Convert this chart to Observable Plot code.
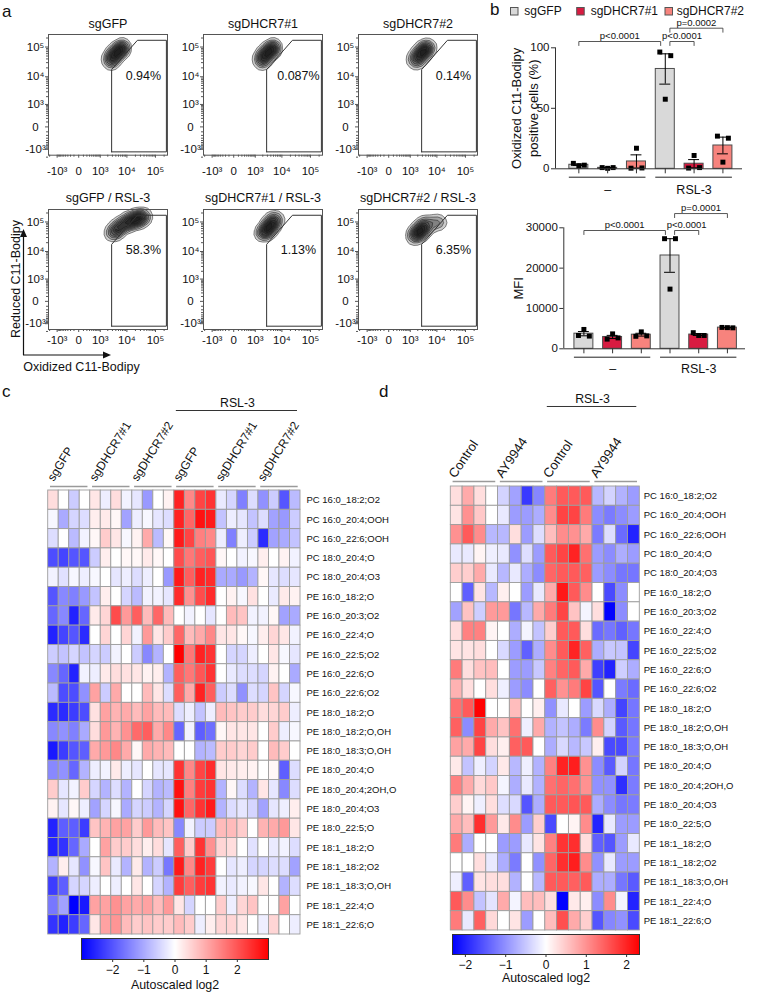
<!DOCTYPE html>
<html>
<head>
<meta charset="utf-8">
<script src="https://cdn.jsdelivr.net/npm/d3@7"></script>
<script src="https://cdn.jsdelivr.net/npm/@observablehq/plot@0.6"></script>
<style>
  body { margin: 0; background: #fff; }
  #fig { position: relative; width: 763px; height: 1000px; overflow: hidden; background: #fff;
         font-family: "Liberation Sans", Arial, Helvetica, sans-serif; color: #111; }
</style>
</head>
<body>
<div id="fig"></div>
<script>
// ---------------- a: C11-Bodipy flow cytometry ----------------
const facsTitles = ["sgGFP", "sgDHCR7#1", "sgDHCR7#2", "sgGFP / RSL-3", "sgDHCR7#1 / RSL-3", "sgDHCR7#2 / RSL-3"];
const gatePercent = ["0.94%", "0.087%", "0.14%", "58.3%", "1.13%", "6.35%"];
// representative events along each population (oxidized, reduced)
const eventsX = [
  [2500, 3300, 4200, 5400, 6900],
  [1770, 2310, 2990, 3860, 4970],
  [1650, 2150, 2800, 3600, 4650],
  [3000, 3860, 4970, 6380, 9620, 12280, 15700, 19960, 25500, 32400, 41200],
  [2120, 2750, 3550, 4570, 5870],
  [1480, 1940, 2520, 3260, 4200, 11300]
];
const eventsY = [
  [35200, 46200, 60500, 79200, 103600],
  [35200, 46200, 60500, 79200, 103600],
  [35200, 46200, 60500, 79200, 103600],
  [41100, 51800, 60500, 76200, 96000, 103600, 111900, 120900, 130500, 141000, 152200],
  [41100, 53900, 70500, 92400, 120900],
  [32600, 41100, 51800, 65300, 82200, 96000]
];
const gateX = [2800, 2800, 23500, 240000, 240000, 2800];
const gateY = [-1260, 17500, 168000, 168000, -1260, -1260];
const facsTicks = [-1000, 0, 1000, 10000, 100000];
const facsTickLabels = ["-10³", "0", "10³", "10⁴", "10⁵"];
const facsMinorTicks = [-2000, -900, -800, -700, -600, -500, -400, -300, -200, -100,
  100, 200, 300, 400, 500, 600, 700, 800, 900,
  2000, 3000, 4000, 5000, 6000, 7000, 8000, 9000,
  20000, 30000, 40000, 50000, 60000, 70000, 80000, 90000, 200000];

// ---------------- b: lipid peroxidation and MFI ----------------
const conditions = ["–", "–", "–", "RSL-3", "RSL-3", "RSL-3"];
const lines = ["sgGFP", "sgDHCR7#1", "sgDHCR7#2", "sgGFP", "sgDHCR7#1", "sgDHCR7#2"];
const lineNames = ["sgGFP", "sgDHCR7#1", "sgDHCR7#2"];
const lineColors = ["#d9d9d9", "#d81b41", "#f7837d"];
const oxidizedPct = [[4.5, 2.5, 3.0], [1.0, 0.4, 1.0], [0.5, 17, 0.7], [96.5, 57.5, 93.5], [0.6, 11, 1.0], [27, 5.5, 25.3]];
const mfi = [[3300, 4800, 3150], [2400, 3700, 2700], [3100, 4200, 3200], [27300, 14800, 27300], [4000, 3300, 3300], [5300, 5250, 5200]];
const oxidizedTests = [{a: 0, b: 3, p: "p<0.0001", tier: 0}, {a: 3, b: 4, p: "p<0.0001", tier: 0}, {a: 3, b: 5, p: "p=0.0002", tier: 1}];
const mfiTests = [{a: 0, b: 3, p: "p<0.0001", tier: 0}, {a: 3, b: 4, p: "p<0.0001", tier: 0}, {a: 3, b: 5, p: "p=0.0001", tier: 1}];

// ---------------- c, d: oxidized phospholipids ----------------
const lipids = ["PC 16:0_18:2;O2", "PC 16:0_20:4;OOH", "PC 16:0_22:6;OOH", "PC 18:0_20:4;O", "PC 18:0_20:4;O3",
  "PE 16:0_18:2;O", "PE 16:0_20:3;O2", "PE 16:0_22:4;O", "PE 16:0_22:5;O2", "PE 16:0_22:6;O", "PE 16:0_22:6;O2",
  "PE 18:0_18:2;O", "PE 18:0_18:2;O,OH", "PE 18:0_18:3;O,OH", "PE 18:0_20:4;O", "PE 18:0_20:4;2OH,O",
  "PE 18:0_20:4;O3", "PE 18:0_22:5;O", "PE 18:1_18:2;O", "PE 18:1_18:2;O2", "PE 18:1_18:3;O,OH",
  "PE 18:1_22:4;O", "PE 18:1_22:6;O"];
const cGroups = ["sgGFP", "sgDHCR7#1", "sgDHCR7#2", "sgGFP", "sgDHCR7#1", "sgDHCR7#2"];
const cTreatment = ["", "", "", "RSL-3", "RSL-3", "RSL-3"];
const cValues = [
  [0.4, 0, -0.6, 0, 0.3, -0.2, 0.4, -0.15, -0.3, -1.2, 0, 0.15, 2.6, 1.4, 2.2, 2.4, -0.25, -0.5, -1.5, -0.4, -1.3, -0.6, -2.0, -0.8],
  [-0.1, -1.0, -0.5, -0.4, 0.2, 0.25, 0.1, -1.1, -0.2, -0.1, -0.3, -0.4, 2.6, 1.8, 2.8, 2.7, -0.7, -0.2, -0.3, -0.7, -0.4, -1.1, -1.2, -0.6],
  [-0.4, 0, -0.8, -0.15, 0.1, 0.6, 0.3, -0.1, 0.15, 1.0, -0.8, 0.1, 2.7, 2.2, 1.5, 1.4, -0.2, -1.5, -0.2, -0.6, -2.5, -1.1, -1.0, -0.7],
  [-2.1, -2.2, -2.0, -2.0, -0.6, 0.2, 0, 0.1, 0.1, 0.25, 0.1, 0, 2.1, 1.6, 1.9, 2.0, 0.1, 0, -0.15, -0.1, 0.2, 0, 0.15, -0.15],
  [-0.15, -0.35, -0.1, -0.2, -0.1, 0, -0.3, -0.2, -0.4, -0.2, 0, -1.2, 2.7, 1.9, 2.6, 2.5, -1.0, -1.0, -1.2, -0.9, 0.1, -0.3, -0.4, -0.3],
  [-2.0, -1.4, -1.5, -1.2, -0.7, 0.2, 0, -0.5, -0.8, -0.15, -0.15, -0.3, 2.5, 1.3, 2.1, 2.5, 0, 0.15, -0.1, 0.35, 0, -0.25, 0.25, 0.15],
  [-1.8, -1.4, -2.6, -1.8, 0.25, 0.5, 2.1, 1.2, 1.9, 0.8, 1.8, 0.8, 0, -0.15, 0, -0.3, 0, 0.8, 0.7, -0.15, -0.15, 0.1, -1.1, -1.0],
  [-2.6, -2.2, -2.0, -2.5, 0, 0.5, 0, 0.5, -0.15, 1.2, 0.3, 0.6, 1.8, 0.8, 1.0, 1.4, 0.3, 0.3, 0.1, -0.1, 0.2, 0.5, 0.3, -0.15],
  [-0.6, -0.7, -0.5, -0.7, -0.5, -0.6, -0.15, 0, -0.6, -1.4, -0.9, 0, 3.0, 1.6, 2.6, 2.4, 0, -0.5, -0.5, -0.2, 0, 0.3, -0.1, -0.3],
  [-1.4, -1.8, -2.6, -0.15, -0.2, 0.25, 0.4, 0.35, 0.3, 0.15, 0.2, -0.9, 1.9, 1.6, 2.0, 2.4, 0, -0.25, -0.4, -0.4, -0.5, 0.15, 0, -1.0],
  [-0.8, -2.1, -2.1, -1.3, 1.1, -0.6, 1.0, 0, 0, 0.8, 0.3, -0.4, 1.9, 1.0, 2.6, 1.9, -0.6, -0.4, -1.3, -0.4, -0.5, 0.7, -0.5, -0.1],
  [-2.5, -2.5, -2.3, -2.1, 0.35, 1.1, 0.9, 1.0, 0.8, 1.1, 0.8, 0.8, -0.4, -0.2, -0.7, -0.2, 0.8, 0.7, 0.6, 0.6, 0.4, 0.5, 0.6, -0.2],
  [-1.4, -1.3, -1.5, -1.0, 0.4, 1.2, 0.9, 1.3, 1.75, 1.9, 1.0, 1.4, -1.8, -0.15, -1.9, -1.7, 0.1, 0.3, 0.3, 0.3, 0, 0.6, -0.2, -0.1],
  [-2.7, -2.3, -2.0, -1.9, 1.0, 1.2, 1.4, 1.0, 0.1, 1.0, 0.9, 0.8, 0, 0, -0.9, -0.8, 0.6, 0.6, 0.5, 0.6, 0, 0.8, 0.6, 0],
  [-1.4, -1.3, -1.8, -0.9, -0.2, -0.15, 0.25, -0.2, -0.3, 0, -0.3, -0.3, 2.4, 1.4, 2.2, 2.5, 0.3, 0.25, 0.2, 0.15, 0, 0.1, -1.9, -0.4],
  [0.6, -0.3, -0.15, 0.6, -0.5, -0.9, -0.4, -0.9, 0, -0.5, -0.9, -0.8, 2.8, 1.5, 2.3, 2.4, -0.9, 0.1, -0.4, -0.9, 0.3, -0.3, -1.4, -0.4],
  [0.15, -0.3, 0.1, -0.2, -1.1, -0.5, -0.1, -1.0, -0.5, -0.6, -0.9, -0.5, 2.8, 1.8, 2.4, 2.7, -0.9, -0.4, -0.3, -0.5, -1.1, -0.3, -0.2, 0.2],
  [-2.6, -1.9, -1.9, -2.3, 0.7, 0.9, 1.1, 1.1, 0.6, 1.2, 0.8, 0.7, -1.4, -0.15, -0.6, -0.6, 0.8, 0.8, 0.6, 0, 0.9, 1.0, 1.2, 0.3],
  [-2.6, -2.4, -1.8, -1.0, 0, 1.1, 0.6, 0.6, 0.4, 0.2, 0.4, -0.3, 1.9, 0.6, 2.4, 1.3, 0.5, 0.4, 0, -0.35, 0, -0.25, -0.15, -0.4],
  [-0.9, 0.2, -0.3, -1.3, -0.1, 0.7, -0.25, -0.9, 0.25, -0.9, -0.6, -1.6, 2.7, 1.4, 2.6, 2.3, 0, -0.3, -0.2, -0.5, -0.5, -0.4, -0.4, -1.1],
  [-2.3, -1.9, -0.5, -0.5, -0.2, 0, -0.2, 0, 0.3, 0, -0.5, -0.9, 2.3, 1.9, 2.3, 2.4, -0.15, -0.25, -0.15, -0.1, 0.3, 0, -0.9, -0.4],
  [-1.6, -1.1, -3.0, -2.7, 1.1, 1.1, 1.3, 1.1, 1.0, 1.1, 0.8, 1.2, 0.3, -0.5, 0, 0, 0.6, -0.2, 0.5, 0.7, 0, 0, 1.1, 0],
  [-2.4, -2.6, -2.3, -1.8, 0.3, 1.1, 1.25, 0.8, 0.6, 0.7, 0.6, 0.6, 0.8, 0.6, -0.2, 0.2, 0.5, 0.5, 0.3, 0, -0.2, 0.5, 0, -0.2]
];
const dGroups = ["Control", "AY9944", "Control", "AY9944"];
const dTreatment = ["", "", "RSL-3", "RSL-3"];
const dValues = [
  [0.3, 0.77, 0.3, 0, -0.4, -0.85, -1.8, -1.1, 1.2, 1.5, 1.5, 1.5, -0.65, -0.4, -0.7, -0.9],
  [0.25, 1.0, 0.5, 0, -0.2, -0.9, -0.9, -0.75, 1.05, 1.7, 1.7, 1.2, -1.05, -1.2, -1.05, -0.9],
  [1.0, 1.5, 1.05, -0.65, -0.65, 0.3, -0.9, -0.3, 0.6, 1.05, 1.0, 0.77, -1.2, -0.3, -1.35, -2.0],
  [-0.2, -0.2, 0.1, -0.15, -0.2, -1.0, -0.3, -0.9, 1.5, 1.7, 2.0, 1.3, -0.9, -1.05, -0.75, -0.9],
  [0.45, 0.45, 0.77, -0.2, -0.65, -0.2, -0.75, -1.05, 1.4, 1.5, 1.5, 1.45, -0.9, -1.05, -1.25, -1.25],
  [0, -1.45, 0.25, -0.65, 0.15, 0, -0.9, -0.2, 0.77, 2.1, 1.5, 1.05, 0, -1.65, -1.05, 0],
  [-0.85, 0.55, -0.45, 0.92, 0.92, -1.25, -0.65, 0.77, 1.2, 1.7, 0.55, -0.1, 0.3, -2.3, -1.05, 0],
  [0.3, 1.15, 1.15, 0.1, 0, -0.75, -0.1, -0.55, 0.45, 1.5, 1.5, 0.3, -1.35, -1.25, -1.45, -1.25],
  [0.25, 0.25, 0.3, 0, -0.35, -0.9, -1.45, -0.75, 1.05, 1.5, 2.0, 1.45, -0.75, -0.5, -0.55, -1.7],
  [1.2, 0.3, 0.55, 0.6, 0, -0.9, -0.9, -0.5, 1.15, 1.4, 1.5, 0.77, -1.75, -2.0, -0.45, -0.75],
  [0.7, 0.3, 0, 0.3, -0.15, -0.9, -1.05, 0, 1.45, 1.0, 1.2, 1.7, -1.55, 0, -1.2, -1.35],
  [1.3, 1.5, 2.3, 0, 0, 0.6, 0, 0.15, -1.0, -0.2, 0, -0.9, -0.35, -0.75, -1.7, -1.25],
  [1.45, -1.05, 1.7, 0.77, 0.55, 1.3, -0.15, 0.77, -0.7, -0.55, -0.75, -1.2, 1.05, -0.4, -1.5, -1.25],
  [0.85, 0.77, 1.7, 0.3, 0.15, 1.45, 1.5, 0, -0.75, -0.35, -0.65, -0.5, 0.15, -1.65, -1.65, -1.2],
  [0.2, -0.55, -0.15, -0.4, 0.2, -0.65, -0.15, -0.7, 1.15, 2.0, 2.05, 1.0, -1.05, -1.5, -0.4, -1.25],
  [1.15, 0.77, 0.35, 0.5, -0.1, -0.75, -0.2, -0.7, 1.3, 1.4, 1.3, 1.0, -1.0, -1.0, -1.9, -1.2],
  [0.45, 0.1, -0.15, 0.3, -0.3, -0.35, -1.55, -0.75, 1.5, 1.5, 1.55, 1.5, -0.75, -1.05, -1.25, -1.2],
  [0.77, 0.6, 1.9, 0.92, 0.2, 1.05, -0.9, 0.45, -1.65, 0, 0.1, 1.05, -2.0, -0.2, -0.9, -0.9],
  [1.2, -0.75, 0, 0, -0.9, -0.9, -0.2, 0.25, 1.15, 1.85, 1.9, 0.3, -1.45, -1.55, -0.9, -0.2],
  [0, 0, 0.3, -0.2, -0.75, -1.2, 0, -1.0, 1.4, 1.9, 2.05, 1.05, -1.0, -0.2, -0.9, -0.9],
  [-0.15, -1.45, 0.25, 0.3, 0.3, -0.7, 0, -0.65, 1.5, 1.5, 1.45, 1.5, -0.75, -0.75, -1.25, -1.5],
  [1.5, 1.05, -0.55, -0.25, 0.77, -0.1, 0.6, 0.6, 0.3, -2.3, 0.2, 0.15, -1.05, 1.05, -0.1, -2.0],
  [1.2, -0.2, 1.45, 0.35, 0, 0.25, -0.9, 0, 0.6, 1.6, 0.77, 0.45, -1.55, -1.1, -1.0, -1.65]
];
const colorTicks = [-2, -1, 0, 1, 2];

// ---------------- layout helpers ----------------
const FONT = '"Liberation Sans", Arial, Helvetica, sans-serif';
const baseStyle = {fontFamily: FONT, background: "transparent", overflow: "visible", color: "#111"};
const fig = document.getElementById("fig");
function place(el, left, top) {
  el.style.position = "absolute";
  el.style.left = left + "px";
  el.style.top = top + "px";
  fig.append(el);
  return el;
}
const facsFormat = d => facsTickLabels[facsTicks.indexOf(d)];
const heatColor = max => ({type: "linear", domain: [-max, 0, max], range: ["#0000ff", "#ffffff", "#ff0000"], interpolate: "rgb", clamp: true});

// ---------------- a: six contour plots ----------------
function facsPlot(k) {
  const row = Math.floor(k / 3), col = k % 3;
  const frameLeft = 47.7 + 155.3 * col, frameTop = row ? 209.3 : 34.3, frameH = row ? 120 : 120.7;
  const mL = 40, mT = 30, mR = 10, mB = 30, frameW = 119;
  const events = eventsX[k].map((x, i) => ({x, y: eventsY[k][i]}));
  const gate = gateX.map((x, i) => ({x, y: gateY[i]}));
  const chart = Plot.plot({
    width: mL + frameW + mR, height: mT + frameH + mB,
    marginLeft: mL, marginTop: mT, marginRight: mR, marginBottom: mB,
    style: baseStyle,
    x: {type: "symlog", constant: 217, domain: [-2210, 262144], label: null},
    y: {type: "symlog", constant: 217, domain: [-1690, 262144], label: null},
    marks: [
      Plot.density(events, {x: "x", y: "y", bandwidth: 2.7, thresholds: 10, fill: "#000", fillOpacity: 0.2, stroke: "#111", strokeWidth: 0.5}),
      Plot.line(gate, {x: "x", y: "y", stroke: "#333", strokeWidth: 1}),
      Plot.frame({stroke: "#555"}),
      Plot.axisX({ticks: facsMinorTicks, tickSize: 2, tickFormat: () => "", label: null, stroke: "#555"}),
      Plot.axisY({ticks: facsMinorTicks, tickSize: 2, tickFormat: () => "", label: null, stroke: "#555"}),
      Plot.axisX({ticks: facsTicks, tickSize: 3, tickPadding: row ? 3 : 9, tickFormat: facsFormat, fontSize: 11.5, label: null, stroke: "#555"}),
      Plot.axisY({ticks: facsTicks, tickSize: 3, tickPadding: 10, textAnchor: "middle", tickFormat: facsFormat, fontSize: 11.5, label: null, stroke: "#555"}),
      Plot.text([facsTitles[k]], {frameAnchor: "top", dy: row ? -7.6 : -6, lineAnchor: "bottom", fontSize: 12.5}),
      Plot.text([gatePercent[k]], {x: 38000, y: 11000, fontSize: 12.5})
    ]
  });
  place(chart, frameLeft - mL, frameTop - mT);
}
for (let k = 0; k < 6; ++k) facsPlot(k);

// ---------------- b: bar charts ----------------
function barChart(o) {
  const HW = 0.33, CAP = 0.19, GAP = 0.16;
  const bars = o.values.map((reps, i) => ({i, line: lines[i], cond: conditions[i],
    mean: d3.mean(reps), sem: d3.deviation(reps) / Math.sqrt(reps.length)}));
  const dots = o.values.flatMap((reps, i) => reps.map((y, k) => ({x: i + (k - 1) * 0.19, y})));
  const spans = d3.groups(bars, d => d.cond).map(([cond, bs]) => ({cond,
    x1: bs[0].i - HW, x2: bs[bs.length - 1].i + HW, mid: d3.mean(bs, b => b.i)}));
  const uses = d3.rollup(o.tests.flatMap(t => [t.a, t.b]), v => v.length, d => d);
  const brackets = o.tests.map((t, j) => {
    const y = o.bracketY + t.tier * o.bracketStep;
    const x1 = t.a + (uses.get(t.a) > 1 ? GAP : 0);
    const x2 = t.b - (uses.get(t.b) > 1 ? GAP : 0);
    return {j, p: t.p, y, x1, x2};
  });
  const bracketPath = brackets.flatMap(b => [[b.x1, b.y - o.leg], [b.x1, b.y], [b.x2, b.y], [b.x2, b.y - o.leg]]
    .map(([x, y]) => ({x, y, j: b.j})));
  const chart = Plot.plot({
    width: o.width, height: o.height,
    marginLeft: o.mL, marginTop: o.mT, marginRight: o.width - o.mL - o.frameW, marginBottom: o.height - o.mT - o.frameH,
    style: baseStyle,
    x: {domain: o.xDomain, label: null},
    y: {domain: o.yDomain, label: null},
    color: {domain: lineNames, range: lineColors},
    marks: [
      Plot.rect(bars, {x1: d => d.i - HW, x2: d => d.i + HW, y1: 0, y2: "mean", fill: "line", stroke: "#4d4d4d", strokeWidth: 1}),
      Plot.ruleX(bars, {x: "i", y1: d => d.mean - d.sem, y2: d => d.mean + d.sem, stroke: "#000", strokeWidth: 1}),
      Plot.ruleY(bars, {x1: d => d.i - CAP, x2: d => d.i + CAP, y: d => d.mean + d.sem, stroke: "#000", strokeWidth: 1}),
      Plot.ruleY(bars, {x1: d => d.i - CAP, x2: d => d.i + CAP, y: d => d.mean - d.sem, stroke: "#000", strokeWidth: 1}),
      Plot.dot(dots, {x: "x", y: "y", symbol: "square", r: 2.8, fill: "#000", stroke: "none"}),
      Plot.ruleX([o.xDomain[0]], {stroke: "#333"}),
      Plot.ruleY([0], {stroke: "#333"}),
      Plot.axisY({ticks: o.yTicks, tickSize: 4, tickPadding: 2, fontSize: 11.5, tickFormat: "d", label: null, stroke: "#333"}),
      Plot.axisX({ticks: bars.map(d => d.i), tickSize: 5, tickFormat: () => "", label: null, stroke: "#333"}),
      Plot.ruleY(spans, {x1: "x1", x2: "x2", y: 0, dy: 8.4, stroke: "#222", strokeWidth: 1}),
      Plot.text(spans, {x: "mid", y: 0, dy: o.groupDy, text: "cond", fontSize: 12.5}),
      Plot.line(bracketPath, {x: "x", y: "y", z: "j", stroke: "#444", strokeWidth: 0.9}),
      Plot.text(brackets, {x: d => (d.x1 + d.x2) / 2, y: "y", dy: -2.5, lineAnchor: "bottom", text: "p", fontSize: 9.5}),
      Plot.text([o.yLabel], {frameAnchor: "left", dx: o.yLabelDx, rotate: -90, textAnchor: "middle", lineAnchor: "middle", fontSize: 13, lineHeight: 1.3})
    ]
  });
  place(chart, o.left, o.top);
}
barChart({values: oxidizedPct, tests: oxidizedTests, left: 495, top: 0, width: 268, height: 200,
  mL: 60, mT: 47.3, frameW: 187, frameH: 121, xDomain: [-0.81, 5.68], yDomain: [0, 100], yTicks: [0, 50, 100],
  bracketY: 105.2, bracketStep: 11, leg: 3.3, groupDy: 20.7,
  yLabel: "Oxidized C11-Bodipy\npositive cells (%)", yLabelDx: -31.5});
barChart({values: mfi, tests: mfiTests, left: 495, top: 190, width: 268, height: 190,
  mL: 68.3, mT: 37.3, frameW: 181.7, frameH: 121, xDomain: [-0.70, 5.63], yDomain: [0, 30000], yTicks: [0, 10000, 20000, 30000],
  bracketY: 29330, bracketStep: 4200, leg: 1000, groupDy: 20,
  yLabel: "MFI", yLabelDx: -46});

// ---------------- c, d: heatmaps ----------------
function heatmap(o) {
  const nrow = lipids.length, ncol = o.groups.length * 4;
  const cells = o.values.flatMap((r, row) => r.map((v, col) => ({row, col, v})));
  const groupSpans = o.groups.map((name, j) => ({name, start: j * 4, end: j * 4 + 4}));
  const treatedIdx = o.treatment.map((t, j) => t ? j : -1).filter(j => j >= 0);
  const treated = {name: o.treatment[treatedIdx[0]], start: treatedIdx[0] * 4, end: (treatedIdx[treatedIdx.length - 1] + 1) * 4};
  const mL = o.frameLeft - o.left, mT = o.frameTop - o.top, mR = 120, mB = 10;
  const chart = Plot.plot({
    width: mL + o.frameW + mR, height: mT + o.frameH + mB,
    marginLeft: mL, marginTop: mT, marginRight: mR, marginBottom: mB,
    style: baseStyle,
    x: {domain: [0, ncol], axis: null},
    y: {domain: [0, nrow], reverse: true, axis: null},
    color: heatColor(o.max),
    marks: [
      Plot.rect(cells, {x1: "col", x2: d => d.col + 1, y1: "row", y2: d => d.row + 1, fill: "v", stroke: "#9d9d9d", strokeWidth: 0.9}),
      Plot.text(lipids, {x: ncol, y: (d, i) => i + 0.5, dx: o.labelDx, textAnchor: "start", fontSize: 9.5}),
      Plot.ruleY(groupSpans, {x1: "start", x2: "end", y: 0, dy: o.groupLineDy, insetLeft: 2.3, insetRight: 2.3, stroke: "#9a9a9a", strokeWidth: 1.6}),
      Plot.text(groupSpans, {x: "start", y: 0, dx: o.headDx, dy: o.headDy, rotate: o.headRotate, textAnchor: "start", lineAnchor: "bottom", text: "name", fontSize: o.headSize}),
      Plot.ruleY([treated], {x1: "start", x2: "end", y: 0, dy: -80, insetLeft: 2, insetRight: 3, stroke: "#333", strokeWidth: 1}),
      Plot.text([treated], {x: d => (d.start + d.end) / 2, y: 0, dy: -83.3, lineAnchor: "bottom", text: "name", fontSize: 12.3})
    ]
  });
  place(chart, o.left, o.top);
}
function colorbar(o) {
  const mL = 30, mT = 5, mR = 30, mB = 45;
  const chart = Plot.plot({
    width: mL + o.frameW + mR, height: mT + o.frameH + mB,
    marginLeft: mL, marginTop: mT, marginRight: mR, marginBottom: mB,
    style: baseStyle,
    x: {domain: [-o.max, o.max], label: null},
    y: {domain: [0, 1], axis: null},
    color: heatColor(o.max),
    marks: [
      Plot.raster({x1: -o.max, x2: o.max, y1: 0, y2: 1, fill: (x) => x, pixelSize: 1}),
      Plot.frame({stroke: "#333"}),
      Plot.axisX({ticks: colorTicks, tickSize: 3, tickPadding: 2.5, fontSize: 12, tickFormat: "d", label: null, stroke: "#333"}),
      Plot.text(["Autoscaled log2"], {frameAnchor: "bottom", dy: o.labelDy, fontSize: 12.4})
    ]
  });
  place(chart, o.frameLeft - mL, o.frameTop - mT);
}
heatmap({values: cValues, groups: cGroups, treatment: cTreatment, max: 3,
  left: 0, top: 370, frameLeft: 47.7, frameTop: 490, frameW: 252.3, frameH: 444,
  labelDx: 6, groupLineDy: -4, headDx: 5.5, headDy: -8.5, headRotate: -58, headSize: 12});
heatmap({values: dValues, groups: dGroups, treatment: dTreatment, max: 2.32,
  left: 380, top: 366, frameLeft: 450.3, frameTop: 486, frameW: 189, frameH: 444,
  labelDx: 4, groupLineDy: -5, headDx: 4.5, headDy: -7.7, headRotate: -56, headSize: 13});
colorbar({max: 3, frameLeft: 80.7, frameTop: 938, frameW: 187, frameH: 21, labelDy: 29});
colorbar({max: 2.32, frameLeft: 451.7, frameTop: 934, frameW: 187, frameH: 20, labelDy: 27});

// ---------------- panel letters, axis arrows, legend ----------------
const NS = "http://www.w3.org/2000/svg";
const overlay = document.createElementNS(NS, "svg");
overlay.setAttribute("width", 763);
overlay.setAttribute("height", 1000);
overlay.setAttribute("font-family", FONT);
overlay.style.cssText = "position:absolute;left:0;top:0;overflow:visible;pointer-events:none";
function svgEl(tag, attrs, text) {
  const e = document.createElementNS(NS, tag);
  for (const k in attrs) e.setAttribute(k, attrs[k]);
  if (text != null) e.textContent = text;
  overlay.append(e);
  return e;
}
[["a", 2, 17], ["b", 490, 15], ["c", 2, 397], ["d", 379, 397]].forEach(([t, x, y]) =>
  svgEl("text", {x, y, "font-size": 17, fill: "#111"}, t));
// axis arrows for panel a
svgEl("line", {x1: 23.5, y1: 355, x2: 23.5, y2: 236, stroke: "#111", "stroke-width": 1.2});
svgEl("polygon", {points: "23.5,229 20,237 27,237", fill: "#111"});
svgEl("line", {x1: 23, y1: 355, x2: 104, y2: 355, stroke: "#111", "stroke-width": 1.2});
svgEl("polygon", {points: "111,355 103,351.5 103,358.5", fill: "#111"});
svgEl("text", {x: 81.5, y: 370.5, "font-size": 12.5, "text-anchor": "middle", fill: "#111"}, "Oxidized C11-Bodipy");
svgEl("text", {transform: "translate(19.5,279) rotate(-90)", "font-size": 12.5, "text-anchor": "middle", fill: "#111"}, "Reduced C11-Bodipy");
// legend for b
const legendSquares = [510.5, 576.7, 665];
const legendText = [524.3, 590.7, 676.7];
lineNames.forEach((name, j) => {
  svgEl("rect", {x: legendSquares[j], y: 7.5, width: 7.5, height: 7.5, fill: lineColors[j], stroke: "#555", "stroke-width": 1});
  svgEl("text", {x: legendText[j], y: 14.8, "font-size": 12, fill: "#111"}, name);
});
fig.append(overlay);
</script>
</body>
</html>
